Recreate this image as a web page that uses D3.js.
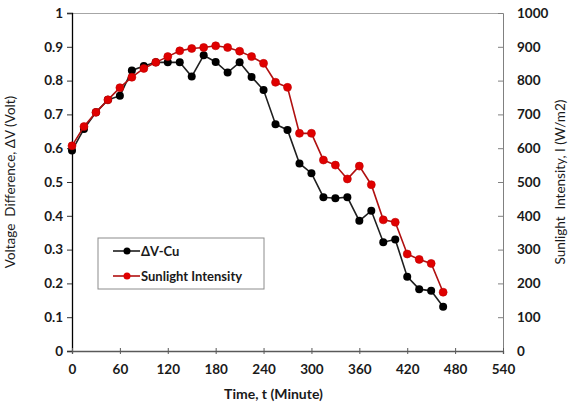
<!DOCTYPE html>
<html>
<head>
<meta charset="utf-8">
<script src="https://cdn.jsdelivr.net/npm/d3@7"></script>
<style>
  body { margin: 0; background: #fff; }
  svg { font-family: Lato, "Open Sans", sans-serif; }
</style>
</head>
<body>
<div id="chart"></div>
<script>
// time in minutes
var times = [0, 15, 30, 45, 60, 75, 90, 105, 120, 135, 150, 165, 180, 195, 210, 225,
             240, 255, 270, 285, 300, 315, 330, 345, 360, 375, 390, 405, 420, 435, 450, 465];
// voltage difference (V), left axis
var voltage = [0.593, 0.657, 0.706, 0.743, 0.755, 0.830, 0.843, 0.854, 0.854, 0.854, 0.812, 0.875,
               0.855, 0.824, 0.854, 0.811, 0.772, 0.671, 0.654, 0.555, 0.526, 0.455, 0.452, 0.455,
               0.385, 0.415, 0.322, 0.330, 0.220, 0.183, 0.178, 0.131];
// sunlight intensity (W/m2), right axis
var sunlight = [607, 664, 706, 743, 779, 810, 836, 854, 871, 888, 895, 898, 903, 898, 887, 871,
                851, 795, 780, 644, 644, 565, 550, 509, 547, 492, 388, 381, 287, 271, 259, 174];

var xTicks = [0, 60, 120, 180, 240, 300, 360, 420, 480, 540];
var yTicks = [0, 0.1, 0.2, 0.3, 0.4, 0.5, 0.6, 0.7, 0.8, 0.9, 1];
var y2Ticks = [0, 100, 200, 300, 400, 500, 600, 700, 800, 900, 1000];
var seriesNames = ["\u0394V-Cu", "Sunlight Intensity"];

var W = 569, H = 409;
var margin = {top: 13, right: 66, bottom: 58, left: 72};
var width = W - margin.left - margin.right,
    height = H - margin.top - margin.bottom;

var svg = d3.select("#chart").append("svg")
    .attr("width", W)
    .attr("height", H);

var g = svg.append("g")
    .attr("transform", "translate(" + margin.left + "," + margin.top + ")");

var x = d3.scaleLinear().domain([0, 540]).range([0, width]);
var y = d3.scaleLinear().domain([0, 1]).range([height, 0]);
var y2 = d3.scaleLinear().domain([0, 1000]).range([height, 0]);

// top frame line
g.append("line")
    .attr("x1", 0).attr("x2", width)
    .attr("y1", 0.5).attr("y2", 0.5)
    .attr("stroke", "#a6a6a6");

// left axis
var yAxis = g.append("g")
    .call(d3.axisLeft(y).tickValues(yTicks).tickSize(5).tickPadding(4)
        .tickFormat(function(d) { return String(+d.toFixed(1)); }));
// right axis, ticks pointing inward
var y2Axis = g.append("g")
    .attr("transform", "translate(" + width + ",0)")
    .call(d3.axisRight(y2).tickValues(y2Ticks).tickSize(-5).tickPadding(14)
        .tickFormat(function(d) { return String(d); }));
// bottom axis, crossing ticks
var xAxis = g.append("g")
    .attr("transform", "translate(0," + height + ")")
    .call(d3.axisBottom(x).tickValues(xTicks).tickSize(3).tickPadding(10));
xAxis.selectAll(".tick line").attr("y1", -3);

[yAxis, y2Axis, xAxis].forEach(function(a) {
    a.selectAll("text")
        .attr("font-family", "Lato, sans-serif")
        .attr("font-size", 13.5)
        .attr("font-weight", "bold")
        .attr("fill", "#1a1a1a");
});
yAxis.select(".domain").attr("stroke", "#000").attr("stroke-width", 1.3);
yAxis.selectAll(".tick line").attr("stroke", "#333");
y2Axis.select(".domain").attr("stroke", "#808080");
y2Axis.selectAll(".tick line").attr("stroke", "#808080");
xAxis.select(".domain").attr("stroke", "#595959").attr("stroke-width", 1.3);
xAxis.selectAll(".tick line").attr("stroke", "#595959");

// axis titles
g.append("text")
    .attr("x", width / 2 - 14)
    .attr("y", height + 48)
    .attr("text-anchor", "middle")
    .attr("font-size", 14)
    .attr("font-weight", "bold")
    .attr("fill", "#1a1a1a")
    .text("Time, t (Minute)");

g.append("text")
    .attr("transform", "translate(" + (-57) + "," + (height / 2) + ") rotate(-90)")
    .attr("text-anchor", "middle")
    .attr("font-size", 13.5)
    .attr("fill", "#1a1a1a")
    .style("white-space", "pre")
    .text("Voltage  Difference, \u0394V (Volt)");

g.append("text")
    .attr("transform", "translate(" + (width + 62) + "," + (height / 2) + ") rotate(-90)")
    .attr("text-anchor", "middle")
    .attr("font-size", 13.5)
    .attr("fill", "#1a1a1a")
    .style("white-space", "pre")
    .text("Sunlight  Intensity, I (W/m2)");

// series
var lineV = d3.line()
    .x(function(d, i) { return x(times[i]); })
    .y(function(d) { return y(d); });
var lineS = d3.line()
    .x(function(d, i) { return x(times[i]); })
    .y(function(d) { return y2(d); });

g.append("path")
    .datum(voltage)
    .attr("d", lineV)
    .attr("fill", "none")
    .attr("stroke", "#1f1f1f")
    .attr("stroke-width", 1.6);
g.selectAll(".dotV")
    .data(voltage)
    .enter().append("circle")
    .attr("class", "dotV")
    .attr("cx", function(d, i) { return x(times[i]); })
    .attr("cy", function(d) { return y(d); })
    .attr("r", 4)
    .attr("fill", "#000");

g.append("path")
    .datum(sunlight)
    .attr("d", lineS)
    .attr("fill", "none")
    .attr("stroke", "#b01010")
    .attr("stroke-width", 1.6);
g.selectAll(".dotS")
    .data(sunlight)
    .enter().append("circle")
    .attr("class", "dotS")
    .attr("cx", function(d, i) { return x(times[i]); })
    .attr("cy", function(d) { return y2(d); })
    .attr("r", 4)
    .attr("fill", "#e00000")
    .attr("stroke", "#c00000")
    .attr("stroke-width", 0.6);

// legend
var legend = svg.append("g").attr("transform", "translate(98,238)");
legend.append("rect")
    .attr("width", 166).attr("height", 51)
    .attr("fill", "#fff")
    .attr("stroke", "#8c8c8c");
var lColors = [["#1f1f1f", "#000"], ["#b01010", "#e00000"]];
seriesNames.forEach(function(name, i) {
    var row = legend.append("g").attr("transform", "translate(0," + (13 + i * 25) + ")");
    row.append("line")
        .attr("x1", 15).attr("x2", 42)
        .attr("stroke", lColors[i][0]).attr("stroke-width", 1.6);
    row.append("circle")
        .attr("cx", 29).attr("r", 3.5).attr("fill", lColors[i][1]);
    row.append("text")
        .attr("x", 43).attr("dy", "0.35em")
        .attr("font-size", 13)
        .attr("font-weight", "bold")
        .attr("fill", "#1a1a1a")
        .text(name);
});
</script>
</body>
</html>
